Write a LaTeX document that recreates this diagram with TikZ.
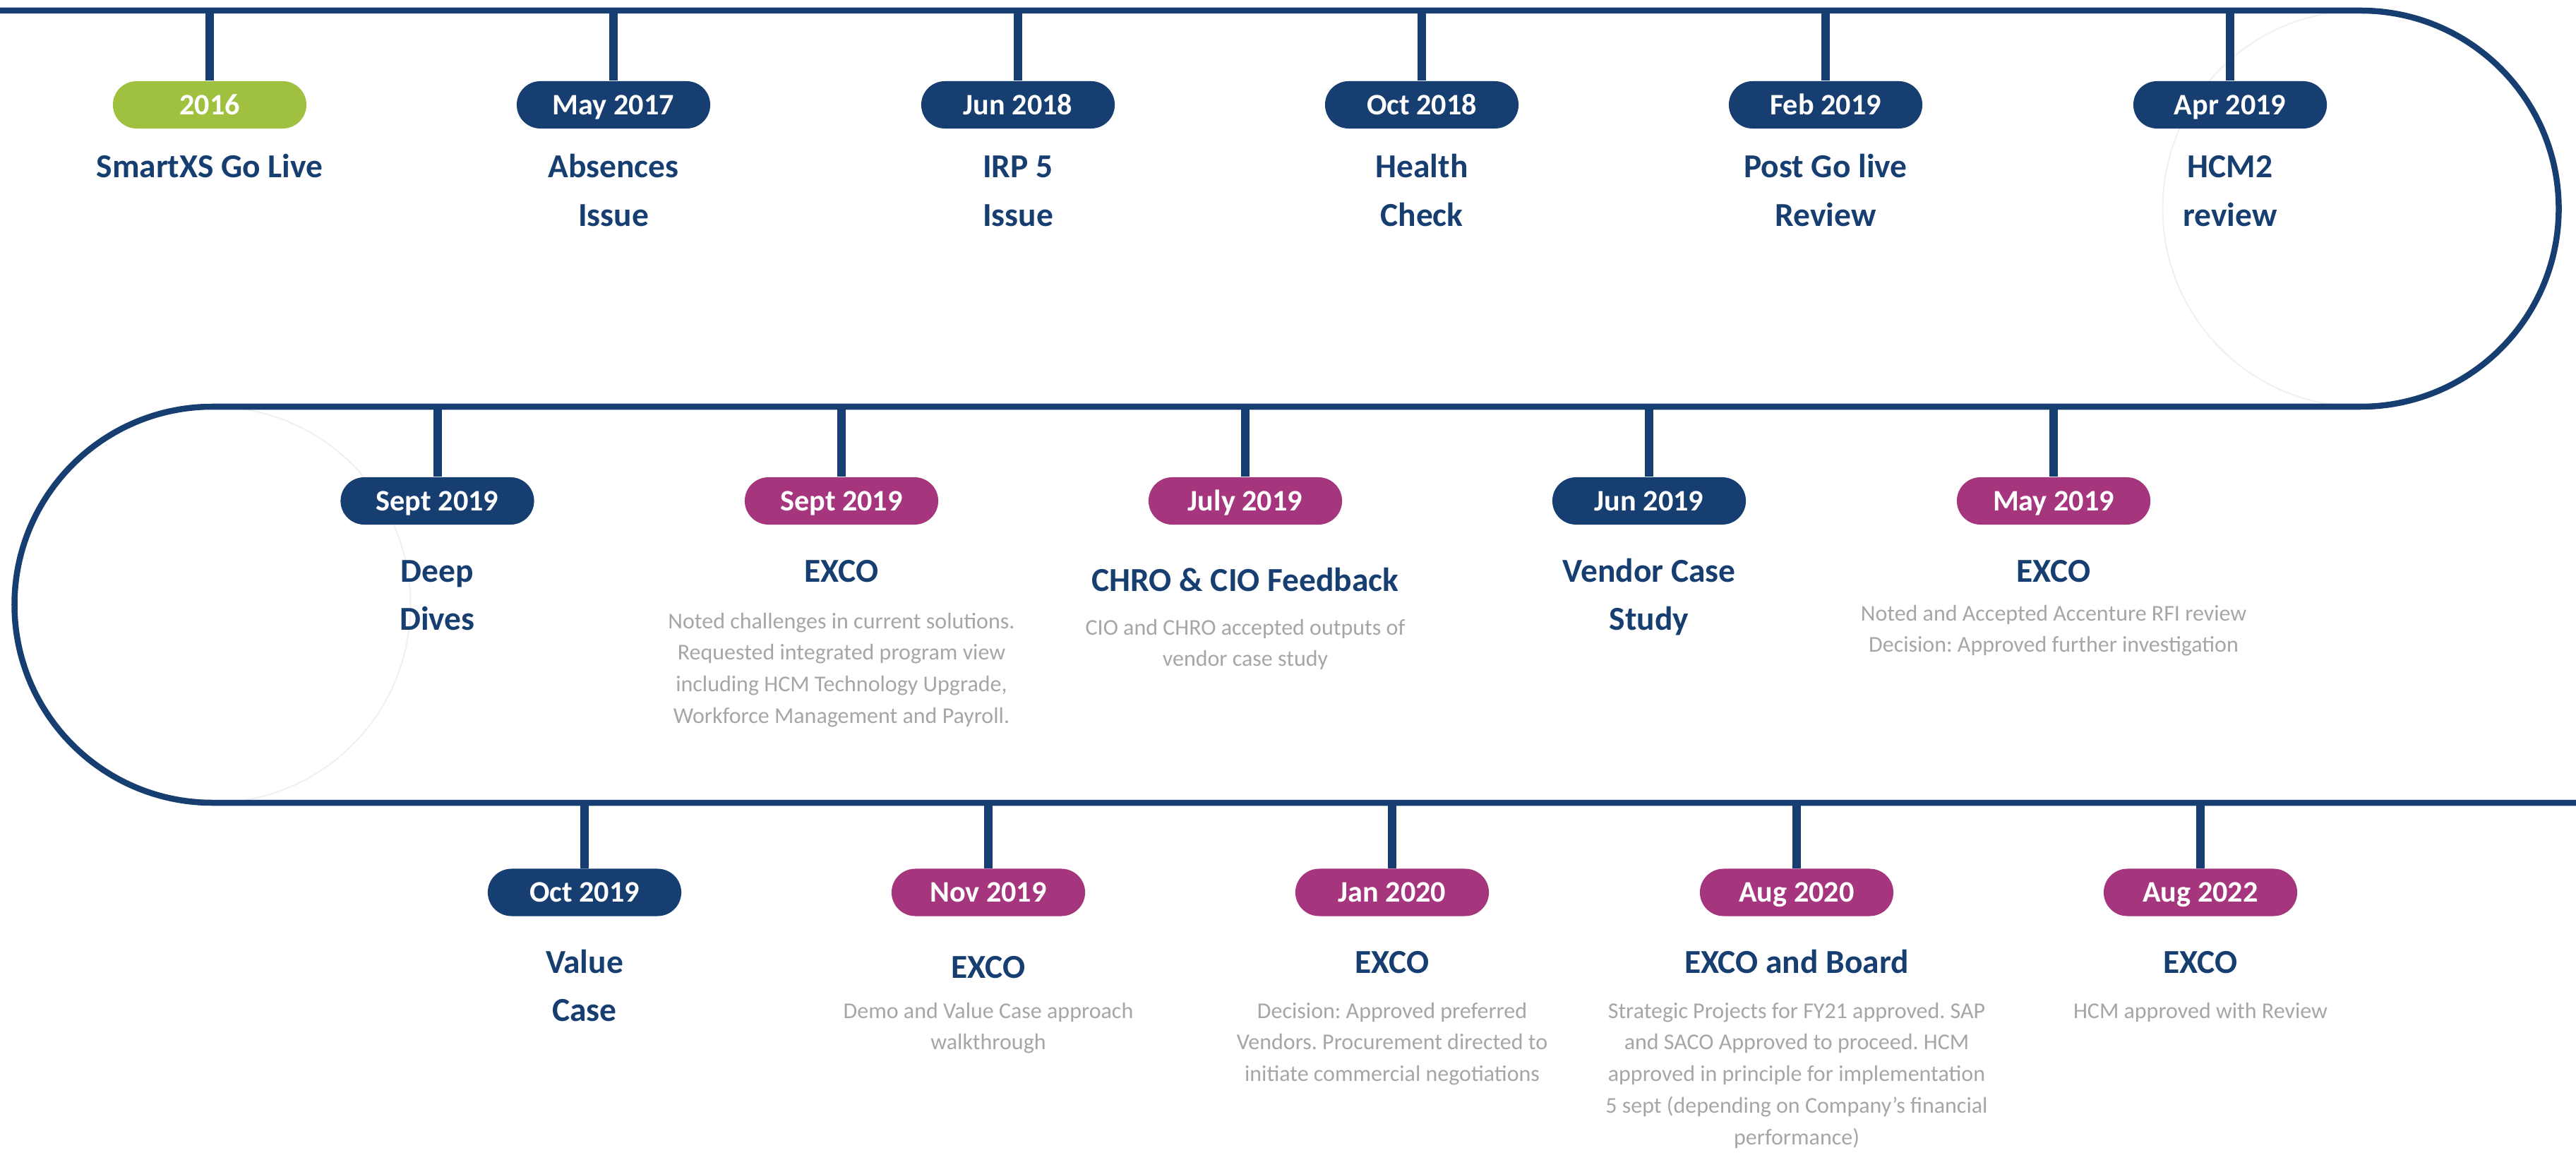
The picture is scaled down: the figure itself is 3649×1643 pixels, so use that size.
\documentclass[tikz,border=0pt]{standalone}
\usepackage{fontspec}
\setmainfont{Carlito}
\frenchspacing
\definecolor{navy}{RGB}{23,62,112}
\definecolor{plum}{RGB}{165,54,126}
\definecolor{leaf}{RGB}{160,193,64}
\definecolor{notegray}{RGB}{166,166,166}
\definecolor{ghost}{RGB}{240,240,240}
% centred lines whose first baseline is the node baseline
\newcommand{\evtlines}[1]{\begin{tabular}[t]{@{}c@{}}#1\end{tabular}}
\begin{document}
\begin{tikzpicture}[x=0.01cm,y=-0.01cm,
  track/.style={draw=navy,line width=0.085cm},
  tickline/.style={draw=navy,line width=0.12cm},
  ghostring/.style={draw=ghost,line width=0.02cm},
  badge/.style={rounded corners=0.335cm,minimum width=2.74cm,minimum height=0.67cm,
    inner sep=0pt,text=white,text height=0.27cm,text depth=0pt,
    font=\fontsize{12}{14}\selectfont\bfseries},
  navybadge/.style={badge,fill=navy},
  plumbadge/.style={badge,fill=plum},
  leafbadge/.style={badge,fill=leaf},
  title/.style={anchor=base,inner sep=0pt,text=navy,
    font=\fontsize{13.5}{19.35}\selectfont\bfseries},
  note/.style={anchor=base,inner sep=0pt,text=notegray,
    font=\fontsize{9.1}{12.75}\selectfont}]
\useasboundingbox (0,0) rectangle (3649,1643);

% faint guide circles inside the two turns
\draw[ghostring] (3344,295.5) circle[radius=280.5];
\draw[ghostring] (301,856.5) circle[radius=280.5];

% the winding track
\draw[track] (0,15) -- (3344,15) arc[start angle=-90,end angle=90,radius=280.5]
  -- (301,576) arc[start angle=-90,end angle=-270,radius=280.5] -- (3649,1137);

% ---------- first row ----------
\coordinate (p1) at (297,15);
\coordinate (p2) at (869,15);
\coordinate (p3) at (1442,15);
\coordinate (p4) at (2014,15);
\coordinate (p5) at (2586,15);
\coordinate (p6) at (3159,15);
\node[leafbadge] (b1) at (297,148.5) {2016};
\node[navybadge] (b2) at (869,148.5) {May 2017};
\node[navybadge] (b3) at (1442,148.5) {Jun 2018};
\node[navybadge] (b4) at (2014,148.5) {Oct 2018};
\node[navybadge] (b5) at (2586,148.5) {Feb 2019};
\node[navybadge] (b6) at (3159,148.5) {Apr 2019};
\foreach \i in {1,...,6} \draw[tickline] (p\i) -- (b\i.north);
\node[title] (h1) at (297,252) {SmartXS Go Live};
\node[title] (h2) at (869,252) {\evtlines{Absences\\Issue}};
\node[title] (h3) at (1442,252) {\evtlines{IRP 5\\Issue}};
\node[title] (h4) at (2014,252) {\evtlines{Health\\Check}};
\node[title] (h5) at (2586,252) {\evtlines{Post Go live\\Review}};
\node[title] (h6) at (3159,252) {\evtlines{HCM2\\review}};

% ---------- second row ----------
\coordinate (p7) at (619.5,576);
\coordinate (p8) at (1192,576);
\coordinate (p9) at (1764,576);
\coordinate (p10) at (2336,576);
\coordinate (p11) at (2909,576);
\node[navybadge] (b7) at (619.5,709.5) {Sept 2019};
\node[plumbadge] (b8) at (1192,709.5) {Sept 2019};
\node[plumbadge] (b9) at (1764,709.5) {July 2019};
\node[navybadge] (b10) at (2336,709.5) {Jun 2019};
\node[plumbadge] (b11) at (2909,709.5) {May 2019};
\foreach \i in {7,...,11} \draw[tickline] (p\i) -- (b\i.north);
\node[title] (h7) at (619.5,824) {\evtlines{Deep\\Dives}};
\node[title] (h8) at (1192,824) {EXCO};
\node[title] (h9) at (1764,837) {CHRO \& CIO Feedback};
\node[title] (h10) at (2336,824) {\evtlines{Vendor Case\\Study}};
\node[title] (h11) at (2909,824) {EXCO};
\node[note] (n8) at (1192,890) {\evtlines{Noted challenges in current solutions.\\
  Requested integrated program view\\including HCM Technology Upgrade,\\
  Workforce Management and Payroll.}};
\node[note] (n9) at (1764,899) {\evtlines{CIO and CHRO accepted outputs of\\vendor case study}};
\node[note] (n11) at (2909,879) {\evtlines{Noted and Accepted Accenture RFI review\\
  Decision: Approved further investigation}};

% ---------- third row ----------
\coordinate (p12) at (828,1137);
\coordinate (p13) at (1400,1137);
\coordinate (p14) at (1972,1137);
\coordinate (p15) at (2545,1137);
\coordinate (p16) at (3117,1137);
\node[navybadge] (b12) at (828,1264) {Oct 2019};
\node[plumbadge] (b13) at (1400,1264) {Nov 2019};
\node[plumbadge] (b14) at (1972,1264) {Jan 2020};
\node[plumbadge] (b15) at (2545,1264) {Aug 2020};
\node[plumbadge] (b16) at (3117,1264) {Aug 2022};
\foreach \i in {12,...,16} \draw[tickline] (p\i) -- (b\i.north);
\node[title] (h12) at (828,1378) {\evtlines{Value\\Case}};
\node[title] (h13) at (1400,1385) {EXCO};
\node[title] (h14) at (1972,1378) {EXCO};
\node[title] (h15) at (2545,1378) {EXCO and Board};
\node[title] (h16) at (3117,1378) {EXCO};
\node[note] (n13) at (1400,1442) {\evtlines{Demo and Value Case approach\\walkthrough}};
\node[note] (n14) at (1972,1442) {\evtlines{Decision: Approved preferred\\
  Vendors. Procurement directed to\\initiate commercial negotiations}};
\node[note] (n15) at (2545,1442) {\evtlines{Strategic Projects for FY21 approved. SAP\\
  and SACO Approved to proceed. HCM\\approved in principle for implementation\\
  5 sept (depending on Company’s financial\\performance)}};
\node[note] (n16) at (3117,1442) {HCM approved with Review};
\end{tikzpicture}
\end{document}
